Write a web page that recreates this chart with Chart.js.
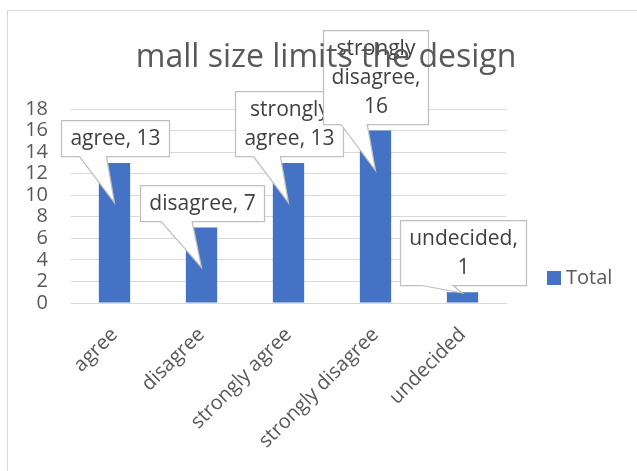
<!DOCTYPE html>
<html>
<head>
<meta charset="utf-8">
<script src="https://cdn.jsdelivr.net/npm/chart.js@4"></script>
<style>
  html, body { margin: 0; padding: 0; background: #fff; }
  canvas { display: block; }
</style>
</head>
<body>
<canvas id="chart" width="637" height="471"></canvas>
<script>
// survey answers and their counts
const categories = ["agree", "disagree", "strongly agree", "strongly disagree", "undecided"];
const totals = [13, 7, 13, 16, 1];
const seriesName = "Total";
const chartTitle = "mall size limits the design";
const yMin = 0, yMax = 18, yStep = 2;

// width of each data callout box
const calloutWidths = [108, 124, 108, 105, 126];

const FONT = "'Open Sans', Lato, sans-serif";
const TEXT = "#595959";
const GRID = "#d9d9d9";
const BAR = "#4472C4";
const AXIS_SIZE = 20;
const CALLOUT_SIZE = 21;

Chart.defaults.font.family = FONT;
Chart.defaults.color = TEXT;

function wrapWords(ctx, text, maxW) {
  const words = text.split(" ");
  const lines = [];
  let line = "";
  for (const w of words) {
    const test = line ? line + " " + w : w;
    if (line && ctx.measureText(test).width > maxW) {
      lines.push(line);
      line = w;
    } else {
      line = test;
    }
  }
  if (line) lines.push(line);
  return lines;
}

// Excel style wedge callouts with "category, value"
const calloutPlugin = {
  id: "callouts",
  afterDatasetsDraw(chart) {
    const ctx = chart.ctx;
    const meta = chart.getDatasetMeta(0);
    const base = chart.scales.y.getPixelForValue(0);
    const lineH = 29;
    ctx.save();
    ctx.font = CALLOUT_SIZE + "px " + FONT;
    meta.data.forEach((bar, i) => {
      const w = calloutWidths[i];
      const lines = wrapWords(ctx, categories[i] + ", " + totals[i], w - 10);
      const h = lines.length * lineH + 7;
      const x0 = Math.round(bar.x - w / 2) + 0.5;
      const y0 = Math.round(bar.y - 7 - h) + 0.5;
      const tipX = bar.x;
      const tipY = Math.min(bar.y + 40, base - 10);
      const b1 = x0 + w / 6, b2 = x0 + w * 5 / 12;
      ctx.beginPath();
      ctx.moveTo(x0, y0);
      ctx.lineTo(x0 + w, y0);
      ctx.lineTo(x0 + w, y0 + h);
      ctx.lineTo(b2, y0 + h);
      ctx.lineTo(tipX, tipY);
      ctx.lineTo(b1, y0 + h);
      ctx.lineTo(x0, y0 + h);
      ctx.closePath();
      ctx.fillStyle = "#ffffff";
      ctx.fill();
      ctx.strokeStyle = "#bfbfbf";
      ctx.lineWidth = 1.25;
      ctx.stroke();
      ctx.fillStyle = "#404040";
      ctx.textAlign = "center";
      ctx.textBaseline = "middle";
      lines.forEach((t, k) => {
        ctx.fillText(t, x0 + w / 2, y0 + 19 + k * lineH);
      });
    });
    ctx.restore();
  }
};

// chart frame, title and legend drawn over everything
const framePlugin = {
  id: "frame",
  beforeDraw(chart) {
    const ctx = chart.ctx;
    ctx.save();
    ctx.fillStyle = "#ffffff";
    ctx.fillRect(0, 0, chart.width, chart.height);
    ctx.strokeStyle = GRID;
    ctx.lineWidth = 1;
    ctx.strokeRect(7.5, 10.5, 700, 600);
    ctx.restore();
  },
  afterDraw(chart) {
    const ctx = chart.ctx;
    ctx.save();
    ctx.fillStyle = TEXT;
    ctx.font = "32px " + FONT;
    ctx.textAlign = "center";
    ctx.textBaseline = "alphabetic";
    ctx.fillText(chartTitle, 326, 67);

    const ds = chart.data.datasets[0];
    ctx.fillStyle = ds.backgroundColor;
    ctx.fillRect(547, 271, 14, 14);
    ctx.fillStyle = TEXT;
    ctx.font = AXIS_SIZE + "px " + FONT;
    ctx.textAlign = "left";
    ctx.textBaseline = "middle";
    ctx.fillText(ds.label, 566, 278);
    ctx.restore();
  }
};

new Chart(document.getElementById("chart"), {
  type: "bar",
  data: {
    labels: categories,
    datasets: [{
      label: seriesName,
      data: totals,
      backgroundColor: BAR,
      borderWidth: 0,
      categoryPercentage: 1,
      barPercentage: 0.36
    }]
  },
  options: {
    responsive: false,
    animation: false,
    layout: { padding: { top: 109, left: 7, right: 131, bottom: 0 } },
    plugins: {
      legend: { display: false },
      title: { display: false },
      tooltip: { enabled: false }
    },
    scales: {
      x: {
        grid: { display: false, drawTicks: false },
        border: { display: true, color: GRID, width: 1 },
        ticks: {
          autoSkip: false,
          minRotation: 45,
          maxRotation: 45,
          padding: 20,
          color: TEXT,
          font: { size: AXIS_SIZE }
        },
        afterFit(scale) { scale.height = 168; }
      },
      y: {
        min: yMin,
        max: yMax,
        grid: { color: GRID, drawTicks: false },
        border: { display: false },
        ticks: {
          stepSize: yStep,
          autoSkip: false,
          padding: 23,
          color: TEXT,
          font: { size: AXIS_SIZE }
        },
        afterFit(scale) { scale.width = 64; }
      }
    }
  },
  plugins: [calloutPlugin, framePlugin]
});
</script>
</body>
</html>
